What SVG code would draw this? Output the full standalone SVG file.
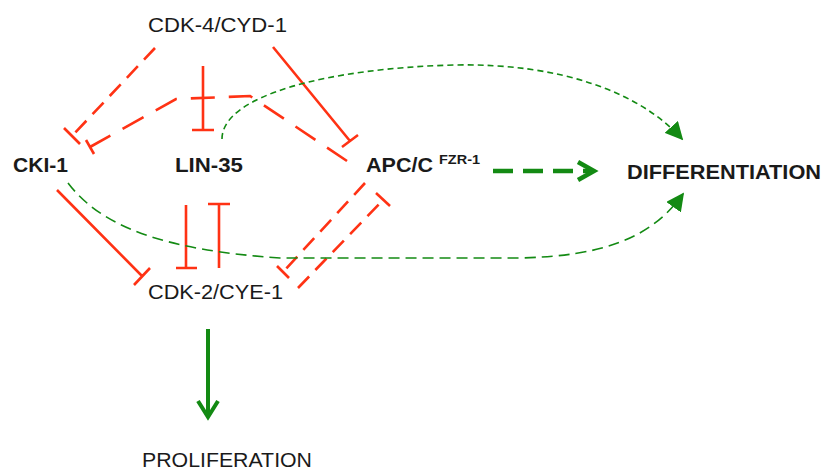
<svg xmlns="http://www.w3.org/2000/svg" width="825" height="472" viewBox="0 0 825 472">
<defs>
<style>
.t{font-family:"Liberation Sans",Arial,sans-serif;fill:#1a1a1a}
.n{font-size:21px}
.b{font-size:21px;font-weight:bold}
.r{stroke:#FF3214;stroke-width:2.6;fill:none}
.rd{stroke-dasharray:16,9}
.g{stroke:#138A13;fill:none}
</style>
<marker id="tri" viewBox="0 0 10 10" refX="9" refY="5" markerWidth="18" markerHeight="18" markerUnits="userSpaceOnUse" orient="auto">
<path d="M0,0 L10,5 L0,10 Z" fill="#138A13"/>
</marker>
</defs>
<rect width="825" height="472" fill="#fff"/>
<g id="connectors">
<path class="r rd" d="M155,48 L72,136"/>
<path class="r" d="M64,128 L80,144"/>
<path class="r" style="stroke-dasharray:24,14" d="M347,161 L250,96 L176,99 L90,147"/>
<path class="r" d="M86,140 L94,154"/>
<path class="r" d="M203,66 L203,130 M192,130 L214,130"/>
<path class="r" d="M273,47 L350,141 M342,147 L358,135"/>
<path class="r" d="M57,190 L142,276 M134,285 L150,268"/>
<path class="r" d="M186,205 L186,268 M176,268 L197,268"/>
<path class="r" d="M219,268 L219,204 M208,204 L230,204"/>
<path class="r rd" d="M365,183 L283,272"/>
<path class="r" d="M277,266 L289,278"/>
<path class="r rd" d="M298,288 L383,200"/>
<path class="r" d="M376,193 L390,206"/>
<path class="g" stroke-width="1.6" stroke-dasharray="6,4" d="M222,139 C222,95 330,68 455,65 C560,63 640,92 682,139" marker-end="url(#tri)"/>
<path class="g" stroke-width="1.6" stroke-dasharray="11,6" d="M68,183 C100,225 160,250 280,258 L520,258 C600,256 650,240 683,194" marker-end="url(#tri)"/>
<path class="g" stroke-width="4.5" stroke-dasharray="20,10" d="M493,171 L592,171"/>
<path class="g" stroke-width="4.5" d="M578,162 L594,171 L578,180"/>
<path class="g" stroke-width="4" d="M208,329 L208,416"/>
<path class="g" stroke-width="4" d="M198,401 L208,417 L218,401"/>
</g>
<g id="cdk4"><text class="t n" x="148" y="32" textLength="139" lengthAdjust="spacingAndGlyphs">CDK-4/CYD-1</text></g>
<g id="cki1"><text class="t b" x="13" y="172" textLength="55" lengthAdjust="spacingAndGlyphs">CKI-1</text></g>
<g id="lin35"><text class="t b" x="175" y="172" textLength="68" lengthAdjust="spacingAndGlyphs">LIN-35</text></g>
<g id="apcc"><text class="t b" x="366" y="172" textLength="67" lengthAdjust="spacingAndGlyphs">APC/C</text><text class="t" style="font-size:12px;font-weight:bold" x="439" y="164" textLength="41" lengthAdjust="spacingAndGlyphs">FZR-1</text></g>
<g id="diff"><text class="t b" x="627" y="179" textLength="194" lengthAdjust="spacingAndGlyphs">DIFFERENTIATION</text></g>
<g id="cdk2"><text class="t n" x="148" y="299" textLength="135" lengthAdjust="spacingAndGlyphs">CDK-2/CYE-1</text></g>
<g id="prolif"><text class="t n" x="142" y="467" textLength="170" lengthAdjust="spacingAndGlyphs">PROLIFERATION</text></g>
</svg>
